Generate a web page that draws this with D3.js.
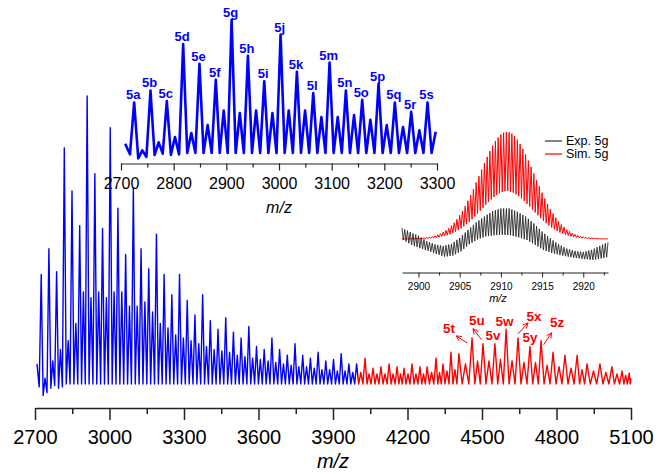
<!DOCTYPE html>
<html>
<head>
<meta charset="utf-8">
<script src="https://cdn.jsdelivr.net/npm/d3@7"></script>
<style>
body { margin: 0; background: #fff; }
svg { font-family: "Liberation Sans", Arial, Helvetica, sans-serif; }
</style>
</head>
<body>
<script>
// ---- spectrum data (m/z of the main peaks, relative intensity) ----
var majorMz = [2725, 2756, 2787, 2818, 2849, 2880, 2910, 2941, 2972, 3003,
  3034, 3065, 3096, 3127, 3158, 3189, 3220, 3251, 3282, 3313,
  3344, 3375, 3406, 3437, 3468, 3499, 3530, 3561, 3592, 3623,
  3654, 3685, 3716, 3747, 3778, 3809, 3840, 3871, 3902, 3933,
  3964, 3995,
  4029, 4061, 4093, 4126, 4158, 4186, 4218, 4250, 4279, 4315,
  4343, 4375, 4407, 4460, 4504, 4552, 4597, 4645, 4693, 4738,
  4786, 4834, 4883, 4923, 4975, 5023, 5064, 5093];
var majorInt = [38, 47, 39, 82, 67, 55, 100, 73, 54, 89,
  61, 45, 68, 47, 40, 52, 38, 31, 38, 29,
  24, 31, 22, 19, 23, 18, 16, 20, 13, 12,
  16, 12, 10, 14, 10, 9, 11, 8, 8.5, 10.5,
  7, 7,
  9, 5.5, 6, 7, 6, 5.5, 7, 6, 6, 9,
  7, 11, 10.5, 16, 14, 14, 19, 16, 13, 15,
  11, 10, 10, 7, 7, 6, 4.5, 3.8];
// small peaks lying between two main peaks
var minorInt = [2, 8, 12, 15, 21, 32, 30, 32, 30, 32,
  32, 27, 27, 28.5, 25, 21, 19.5, 17, 16, 15,
  14, 13, 12, 11.5, 11, 10, 9.5, 9, 8.5, 8,
  7.5, 7, 6.5, 6, 6, 5.5, 5, 5, 4.5, 4.5,
  4, 4,
  3.5, 3.5, 3.5, 3.5, 3.5, 3.5, 3.5, 3.5, 4, 4,
  4.5, 5, 7, 8, 8, 8.5, 8, 7.5, 7.5, 6.5,
  6, 5.5, 5, 4.5, 4, 3.5, 3];
var leadValleys = [-1, -4, -3, -1.5, -0.5, -1.5, -1];
var spectrumStart = [2708, 7];
var spectrumEnd = [5100, 2];
var splitMz = 4001;

var peakLabels = ["5a", "5b", "5c", "5d", "5e", "5f", "5g", "5h", "5i", "5j",
  "5k", "5l", "5m", "5n", "5o", "5p", "5q", "5r", "5s"];
var redLabels = ["5t", "5u", "5v", "5w", "5x", "5y", "5z"];
var redLabelMz = [4460, 4504, 4552, 4597, 4645, 4693, 4738];

// ---- isotope pattern of 5g (step 1/3 from 2898) ----
var isoStart = 2898;
var isoStep = 1 / 3;
var simTop = [20.1, 20.1, 20.1, 20.2, 20.3, 20.4, 20.5, 20.7, 21, 21.3, 21.7, 22.3,
  23, 23.9, 25, 26.4, 28.1, 30, 32.5, 35.2, 38.5, 42.2, 46.2, 50.7,
  55.7, 61.1, 66.7, 72.8, 78.8, 84.9, 91, 96.8, 102.1, 107.2, 111.4, 114.9,
  117.6, 119.3, 120, 119.7, 118.4, 116.1, 112.9, 108.9, 104.3, 99, 93.3, 87.4,
  81.2, 75.2, 69.2, 63.3, 57.8, 52.8, 47.9, 43.7, 39.9, 36.4, 33.5, 31.1,
  28.8, 27.1, 25.6, 24.3, 23.3, 22.6, 21.9, 21.5, 21.1, 20.8, 20.6, 20.4,
  20.3, 20.2, 20.2, 20.1];
var simBase = 20;
var simValleyFrac = 0.45;
var expTop = [30.3, 29, 27.8, 26.5, 25.3, 24.2, 23, 21.3, 19.7, 18, 17, 16,
  15, 14.5, 14, 13.5, 14.2, 14.8, 15.5, 17.3, 19.2, 21, 23.5, 26,
  28.5, 30.8, 33.2, 35.5, 37.3, 39.2, 41, 42.7, 44.3, 46, 46.8, 47.7,
  48.5, 48.5, 48.5, 48.5, 47.5, 46.5, 45.5, 44, 42.5, 41, 38.8, 36.7,
  34.5, 32, 29.5, 27, 24.8, 22.7, 20.5, 18.7, 16.8, 15, 13.7, 12.3,
  11, 10.3, 9.5, 8.8, 8.5, 8.2, 7.9, 8.5, 9.2, 9.8, 11, 12.3,
  13.5, 14.7, 15.8, 17];
var expLow = [19, 17.5, 16, 14.4, 13.4, 12.5, 11.5, 10.7, 9.8, 9, 8, 7,
  6, 5.2, 4.3, 3.5, 3.8, 4.2, 4.5, 5.8, 7.2, 8.5, 10.7, 12.8,
  15, 16.5, 18, 19.5, 20.5, 21.5, 22.5, 22.8, 23.2, 23.5, 23.7, 23.8,
  24, 23.8, 23.7, 23.5, 22.8, 22.2, 21.5, 20.7, 19.8, 19, 17.5, 16,
  14.5, 12.9, 11.3, 9.7, 8.8, 7.9, 7, 6.3, 5.7, 5, 4.5, 4,
  3.5, 3.1, 2.6, 2.2, 1.9, 1.5, 1.2, 1, 0.7, 0.5, 0.9, 1.4,
  1.8, 2.4, 2.9, 3.5];
var legendNames = ["Exp. 5g", "Sim. 5g"];

// ---- tick values ----
var mainTicks = [2700, 3000, 3300, 3600, 3900, 4200, 4500, 4800, 5100];
var mainMinor = [2850, 3150, 3450, 3750, 4050, 4350, 4650, 4950];
var zoomTicks = [2700, 2800, 2900, 3000, 3100, 3200, 3300];
var zoomMinor = [2750, 2850, 2950, 3050, 3150, 3250];
var isoTicks = [2900, 2905, 2910, 2915, 2920];
var isoMinor = [2902.5, 2907.5, 2912.5, 2917.5, 2922.5];

var blue = "#0000ff", red = "#ff0000";

var svg = d3.select("body").append("svg")
  .attr("width", 659).attr("height", 474);

// points of the line: valley - peak - valley - small peak - valley ...
function buildSpectrum() {
  var pts = [spectrumStart];
  var v = 0;
  function valley() { return v < leadValleys.length ? leadValleys[v++] : 0; }
  pts.push([majorMz[0] - 8, valley()]);
  for (var i = 0; i < majorMz.length; i++) {
    pts.push([majorMz[i], majorInt[i]]);
    if (i < majorMz.length - 1) {
      var g = majorMz[i + 1] - majorMz[i];
      pts.push([majorMz[i] + g / 4, valley()]);
      pts.push([majorMz[i] + g / 2, minorInt[i]]);
      pts.push([majorMz[i] + 3 * g / 4, valley()]);
    }
  }
  pts.push([majorMz[majorMz.length - 1] + 4, 0]);
  pts.push(spectrumEnd);
  return pts;
}
var spectrum = buildSpectrum();

function axis(g, scale, ticks, minor, len, minorLen, pad, fs, sw) {
  g.call(d3.axisBottom(scale).tickValues(ticks).tickSize(len)
      .tickPadding(pad).tickSizeOuter(0).tickFormat(d3.format("d")));
  g.append("g").call(d3.axisBottom(scale).tickValues(minor)
      .tickSize(minorLen).tickFormat(""))
    .select(".domain").remove();
  g.attr("font-family", null).attr("font-size", fs).style("color", "#222");
  g.selectAll("path, line").attr("stroke-width", sw);
  g.selectAll("text").attr("fill", "#000");
}

// ---- main chart ----
var x = d3.scaleLinear().domain([2700, 5100]).range([35, 631]);
var y = d3.scaleLinear().domain([0, 100]).range([384, 96]);
var line = d3.line().x(function(d) { return x(d[0]); }).y(function(d) { return y(d[1]); });

var defs = svg.append("defs");
defs.append("clipPath").attr("id", "clipBlue").append("rect")
  .attr("x", 0).attr("y", 0).attr("width", x(splitMz)).attr("height", 474);
defs.append("clipPath").attr("id", "clipRed").append("rect")
  .attr("x", x(splitMz)).attr("y", 0).attr("width", 659).attr("height", 474);
defs.append("marker").attr("id", "arrow")
  .attr("viewBox", "0 0 8 8").attr("refX", 7).attr("refY", 4)
  .attr("markerWidth", 7).attr("markerHeight", 7)
  .attr("markerUnits", "userSpaceOnUse").attr("orient", "auto")
  .append("path").attr("d", "M1,1 L7,4 L1,7")
  .attr("fill", "none").attr("stroke", red).attr("stroke-width", 1);

svg.append("path").datum(spectrum).attr("d", line)
  .attr("fill", "none").attr("stroke", blue).attr("stroke-width", 1.4)
  .attr("stroke-linejoin", "round").attr("clip-path", "url(#clipBlue)");
svg.append("path").datum(spectrum).attr("d", line)
  .attr("fill", "none").attr("stroke", red).attr("stroke-width", 1.4)
  .attr("stroke-linejoin", "round").attr("clip-path", "url(#clipRed)");

axis(svg.append("g").attr("transform", "translate(0,408)"),
  x, mainTicks, mainMinor, 12, 6, 10, 20, 1.5);
svg.append("text").attr("x", 333).attr("y", 468)
  .attr("text-anchor", "middle").attr("font-size", 20)
  .attr("font-style", "italic").text("m/z");

// red labels with arrows (offsets in px from the peak top)
var redLayout = [
  { dx: -23, dy: -10, arrow: [-5, 5, -16, -2] },
  { dx: -6, dy: -24, arrow: [-1.5, -4, -10, -15] },
  { dx: -2, dy: -9, arrow: null },
  { dx: -1.5, dy: -8, arrow: null },
  { dx: 16, dy: -22, arrow: [0, -4, 10, -15] },
  { dx: 0, dy: -10, arrow: null },
  { dx: 16, dy: -19, arrow: [2.5, 4, 10.5, -8] }
];
redLabels.forEach(function(name, i) {
  var px = x(redLabelMz[i]);
  var py = y(majorInt[majorMz.indexOf(redLabelMz[i])]);
  var L = redLayout[i];
  svg.append("text").attr("x", px + L.dx).attr("y", py + L.dy + 5)
    .attr("text-anchor", "middle").attr("font-size", 13.5)
    .attr("font-weight", "bold").attr("fill", red).text(name);
  if (L.arrow) {
    svg.append("line")
      .attr("x1", px + L.arrow[0]).attr("y1", py + L.arrow[1])
      .attr("x2", px + L.arrow[2]).attr("y2", py + L.arrow[3])
      .attr("stroke", red).attr("stroke-width", 1)
      .attr("marker-end", "url(#arrow)");
  }
});

// ---- inset 1 : 2700 - 3300 ----
var x1 = d3.scaleLinear().domain([2700, 3300]).range([121, 437]);
var y1 = d3.scaleLinear().domain([0, 100]).range([153, 20]);
var line1 = d3.line().x(function(d) { return x1(d[0]); }).y(function(d) { return y1(d[1]); });
svg.append("path")
  .datum(spectrum.filter(function(d) { return d[0] <= 3300; }))
  .attr("d", line1).attr("fill", "none").attr("stroke", blue)
  .attr("stroke-width", 2.6).attr("stroke-linejoin", "round");

peakLabels.forEach(function(name, i) {
  svg.append("text").attr("x", x1(majorMz[i]) - 1).attr("y", y1(majorInt[i]) - 3)
    .attr("text-anchor", "middle").attr("font-size", 13)
    .attr("font-weight", "bold").attr("fill", blue).text(name);
});

axis(svg.append("g").attr("transform", "translate(0,163.5)"),
  x1, zoomTicks, zoomMinor, 7, 4, 7, 16, 1.2);
svg.append("text").attr("x", 279).attr("y", 213)
  .attr("text-anchor", "middle").attr("font-size", 16)
  .attr("font-style", "italic").text("m/z");

// ---- inset 2 : isotope pattern ----
var x2 = d3.scaleLinear().domain([2898, 2923]).range([402, 608]);
var y2 = d3.scaleLinear().domain([0, 120]).range([260.4, 132]);
var line2 = d3.line().x(function(d) { return x2(d[0]); }).y(function(d) { return y2(d[1]); });

var simPts = [], expPts = [];
simTop.forEach(function(v, k) {
  var m = isoStart + k * isoStep;
  simPts.push([m, v]);
  expPts.push([m, expTop[k]]);
  if (k < simTop.length - 1) {
    var low = Math.min(v, simTop[k + 1]);
    simPts.push([m + isoStep / 2, simBase + simValleyFrac * (low - simBase)]);
    expPts.push([m + isoStep / 2, expLow[k]]);
  }
});
svg.append("path").datum(simPts).attr("d", line2)
  .attr("fill", "none").attr("stroke", red).attr("stroke-width", 1);
svg.append("path").datum(expPts).attr("d", line2)
  .attr("fill", "none").attr("stroke", "#222").attr("stroke-width", 1)
  .attr("stroke-opacity", 0.85);

axis(svg.append("g").attr("transform", "translate(0,272.5)"),
  x2, isoTicks, isoMinor, 5, 3, 5, 10, 1);
svg.append("text").attr("x", 498).attr("y", 302)
  .attr("text-anchor", "middle").attr("font-size", 11)
  .attr("font-style", "italic").text("m/z");

// legend
var legend = svg.append("g").attr("transform", "translate(545,141)");
legendNames.forEach(function(name, i) {
  legend.append("line").attr("x1", 0).attr("x2", 17)
    .attr("y1", i * 13).attr("y2", i * 13)
    .attr("stroke", i ? red : "#333").attr("stroke-width", 1.2);
  legend.append("text").attr("x", 21).attr("y", i * 13 + 4.3)
    .attr("font-size", 12.5).text(name);
});
</script>
</body>
</html>
